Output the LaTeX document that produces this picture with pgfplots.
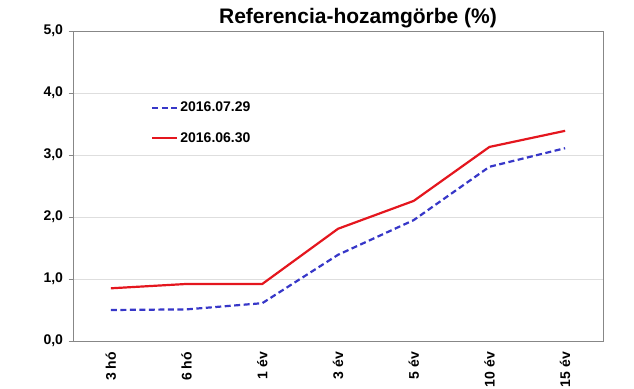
\documentclass[border=0pt]{standalone}
\usepackage{pgfplots}
\pgfplotsset{compat=1.18}
\usepackage{fontspec}
\setmainfont{Liberation Sans}
\definecolor{lblue}{RGB}{55,55,200}
\definecolor{lred}{RGB}{228,22,30}
\definecolor{gridc}{RGB}{222,222,222}
\definecolor{axc}{RGB}{135,135,135}
\begin{document}
\begin{tikzpicture}[x=1pt,y=1pt]
\useasboundingbox (0,0) rectangle (634,388);
\begin{axis}[
  at={(73pt,47pt)}, anchor=south west,
  scale only axis, width=530pt, height=310pt,
  xmin=-0.5, xmax=6.5, ymin=0, ymax=5,
  xtick={0,...,6},
  xticklabels={3 hó,6 hó,1 év,3 év,5 év,10 év,15 év},
  x tick label style={rotate=90, anchor=east, font=\bfseries\fontsize{14}{16}\selectfont, xshift=-3pt},
  xtick style={draw=none},
  minor xtick={-0.5,0.5,...,6.5},
  minor tick length=5pt,
  minor x tick style={axc, line width=0.8pt},
  ytick={0,1,...,5},
  y tick label style={font=\bfseries\fontsize{14}{16}\selectfont, xshift=-2pt},
  yticklabel style={/pgf/number format/.cd, fixed, fixed zerofill, precision=1, use comma, assume math mode=true},
  major tick length=4.5pt,
  tick align=outside,
  xtick pos=bottom, ytick pos=left,
  ytick style={axc, line width=0.8pt},
  ymajorgrids, grid style={gridc, line width=0.8pt},
  axis line style={axc, line width=0.9pt},
  legend style={at={(rel axis cs:0.1415,0.794)}, anchor=north west, draw=none, fill=white,
    font=\bfseries\fontsize{14}{16}\selectfont, row sep=15pt, inner xsep=3pt, inner ysep=5pt},
  legend cell align=left,
  legend image code/.code={\draw[#1] (0pt,0pt) -- (25pt,0pt);},
  clip=false,
]
\addplot[lblue, line width=2.2pt, dash pattern=on 6pt off 3.5pt] coordinates {
 (0,0.50) (1,0.51) (2,0.61) (3,1.39) (4,1.95) (5,2.81) (6,3.11)};
\addlegendentry{2016.07.29}
\addplot[lred, line width=2.2pt] coordinates {
 (0,0.85) (1,0.92) (2,0.92) (3,1.81) (4,2.26) (5,3.13) (6,3.39)};
\addlegendentry{2016.06.30}
\end{axis}
\node[font=\bfseries\fontsize{21}{24}\selectfont] at (358,370) {Referencia-hozamgörbe (\%)};
\end{tikzpicture}
\end{document}
